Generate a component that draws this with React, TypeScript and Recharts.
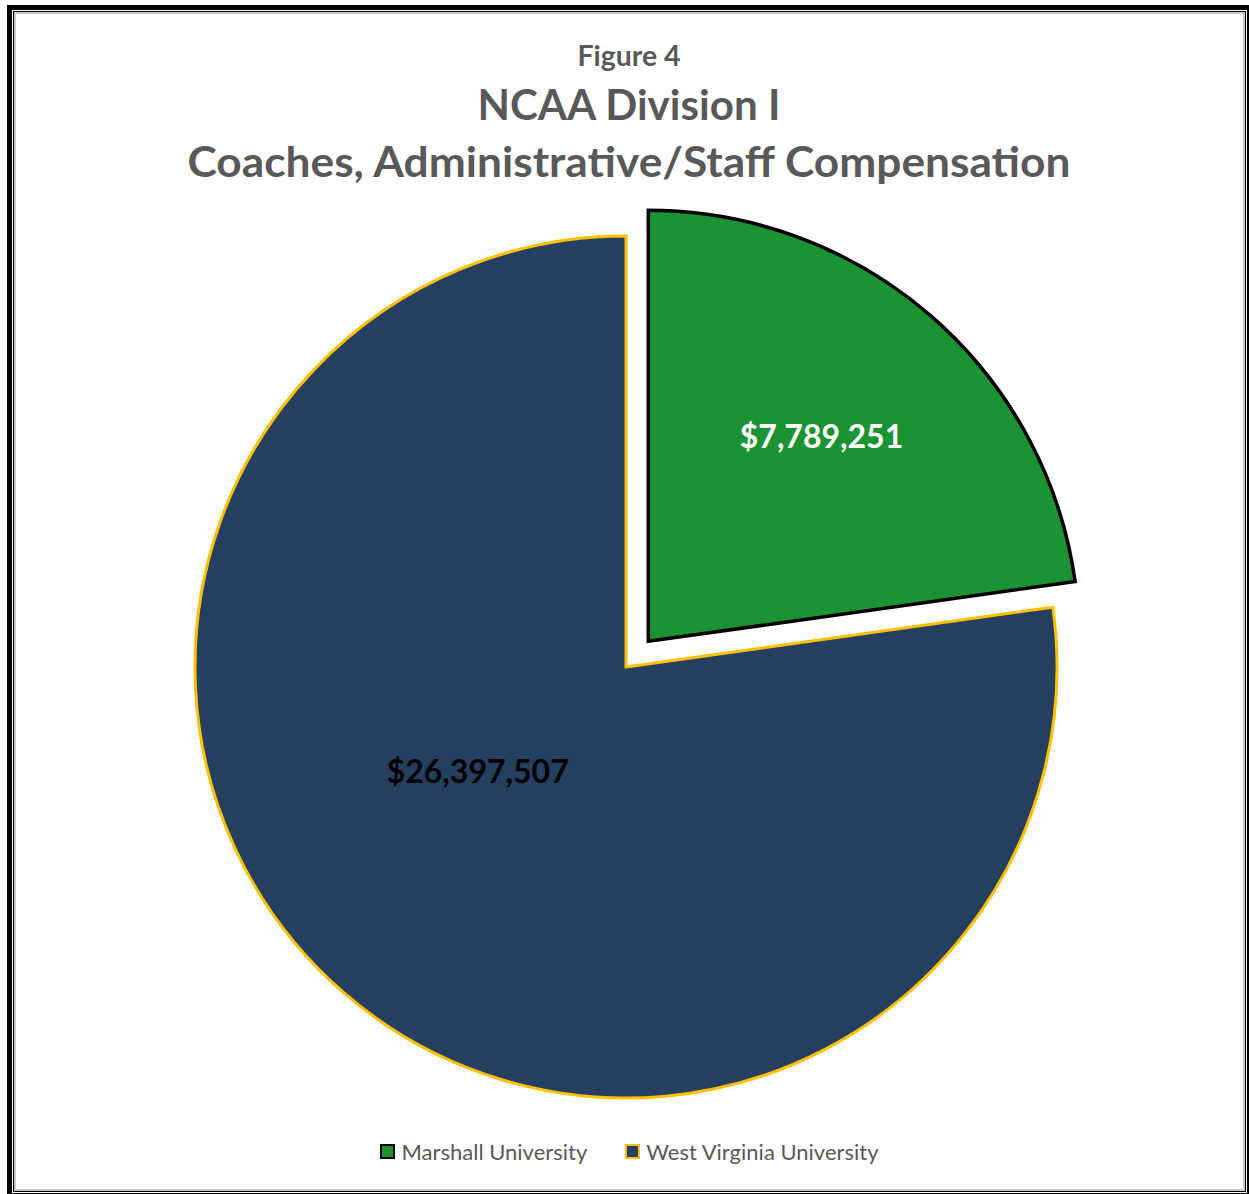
import React from "react"
import { PieChart, Pie, Cell, Legend } from "recharts"

const SCHOOLS = ["Marshall University", "West Virginia University"]
const COMPENSATION = [7789251, 26397507]
const FILLS = ["#1c9332", "#253f60"]
const STROKES = ["#000000", "#ffc000"]
const LABEL_COLORS = ["#ffffff", "#000000"]
// where each value label sits inside its slice: fraction of radius, angle shift (deg)
const LABEL_PLACE = [
  { r: 0.625, shift: 1 },
  { r: 0.42, shift: -14 },
]
const TITLE = ["Figure 4", "NCAA Division I", "Coaches, Administrative/Staff Compensation"]

const data = SCHOOLS.map((name, i) => ({ name, value: COMPENSATION[i] }))

const W = 1249
const H = 1194
const CX = 626
const CY = 667
const R = 431
const EXPLODE = 34
const RAD = Math.PI / 180

const total = COMPENSATION.reduce((a, b) => a + b, 0)
const marshallMid = 90 - (180 * COMPENSATION[0]) / total
const CX2 = CX + EXPLODE * Math.cos(marshallMid * RAD)
const CY2 = CY - EXPLODE * Math.sin(marshallMid * RAD)

const money = (v: number) => "$" + v.toLocaleString("en-US")

const makeLabel = (visible: number) => (props: any) => {
  if (props.index !== visible) return null
  const { cx, cy, midAngle, outerRadius } = props
  const p = LABEL_PLACE[visible]
  const a = -(midAngle + p.shift) * RAD
  const x = cx + outerRadius * p.r * Math.cos(a)
  const y = cy + outerRadius * p.r * Math.sin(a)
  return (
    <text
      x={x}
      y={y}
      textAnchor="middle"
      dominantBaseline="central"
      fill={LABEL_COLORS[visible]}
      fontFamily="Lato, 'Open Sans', sans-serif"
      fontWeight={700}
      fontSize={32}
    >
      {money(COMPENSATION[visible])}
    </text>
  )
}

const LegendContent = () => (
  <div
    style={{
      display: "flex",
      justifyContent: "center",
      fontFamily: "Lato, 'Open Sans', sans-serif",
      fontSize: 22,
      color: "#595959",
      paddingLeft: 10,
    }}
  >
    {SCHOOLS.map((s, i) => (
      <div key={s} style={{ display: "flex", alignItems: "center", marginRight: i === 0 ? 38 : 0 }}>
        <span
          style={{
            display: "inline-block",
            width: 11,
            height: 11,
            background: FILLS[i],
            border: `2px solid ${STROKES[i]}`,
            marginRight: 6,
          }}
        />
        <span>{s}</span>
      </div>
    ))}
  </div>
)

export default function App() {
  return (
    <div
      style={{
        position: "absolute",
        left: 0,
        top: 0,
        width: W,
        height: H,
        overflow: "hidden",
        background: "#ffffff",
      }}
    >
      {/* double frame */}
      <div
        style={{
          position: "absolute",
          left: 7,
          top: 5,
          width: 1245,
          height: 1193,
          boxSizing: "border-box",
          border: "5px solid #000",
        }}
      >
        <div
          style={{
            position: "absolute",
            inset: 1,
            border: "1px solid #000",
            boxShadow: "inset 0 0 0 2px #c8c8c8",
          }}
        />
      </div>

      <div style={{ position: "absolute", left: 0, top: 0 }}>
        <PieChart width={W} height={H} margin={{ top: 0, right: 0, bottom: 0, left: 0 }}>
          <Pie
            data={data}
            dataKey="value"
            nameKey="name"
            cx={CX}
            cy={CY}
            outerRadius={R}
            startAngle={90}
            endAngle={-270}
            label={makeLabel(1)}
            labelLine={false}
            isAnimationActive={false}
            legendType="none"
          >
            {data.map((d, i) => (
              <Cell
                key={`wvu-${i}`}
                fill={i === 1 ? FILLS[1] : "none"}
                stroke={i === 1 ? STROKES[1] : "none"}
                strokeWidth={3}
              />
            ))}
          </Pie>
          <Pie
            data={data}
            dataKey="value"
            nameKey="name"
            cx={CX2}
            cy={CY2}
            outerRadius={R}
            startAngle={90}
            endAngle={-270}
            label={makeLabel(0)}
            labelLine={false}
            isAnimationActive={false}
            legendType="none"
          >
            {data.map((d, i) => (
              <Cell
                key={`mu-${i}`}
                fill={i === 0 ? FILLS[0] : "none"}
                stroke={i === 0 ? STROKES[0] : "none"}
                strokeWidth={3.5}
              />
            ))}
          </Pie>
          <Legend
            content={<LegendContent />}
            wrapperStyle={{ position: "absolute", top: 1138, left: 0, width: W }}
          />
        </PieChart>
      </div>

      <svg
        width={W}
        height={200}
        style={{ position: "absolute", left: 0, top: 0, pointerEvents: "none" }}
      >
        <g fontFamily="Lato, 'Open Sans', sans-serif" fontWeight={700} fill="#595959" textAnchor="middle">
          <text x={629} y={66} fontSize={28} textLength={103} lengthAdjust="spacingAndGlyphs">
            {TITLE[0]}
          </text>
          <text x={629} y={120} fontSize={42} textLength={303} lengthAdjust="spacingAndGlyphs">
            {TITLE[1]}
          </text>
          <text x={629} y={177} fontSize={42} textLength={883} lengthAdjust="spacingAndGlyphs">
            {TITLE[2]}
          </text>
        </g>
      </svg>
    </div>
  )
}
